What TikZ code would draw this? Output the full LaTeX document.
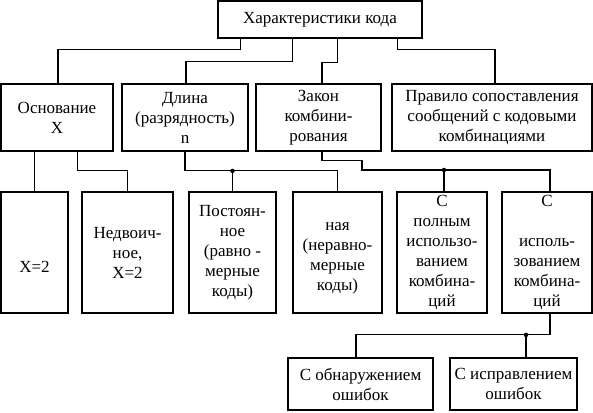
\documentclass[tikz,border=0pt]{standalone}
\usepackage{fontspec}
\setmainfont{Liberation Serif}
\begin{document}
\begin{tikzpicture}[x=1pt,y=-1pt,
  box/.style={draw,line width=1.8pt,inner sep=0pt,align=center,font=\fontsize{17}{20}\selectfont},
  conn/.style={line width=1.1pt},
  jdot/.style={circle,fill,inner sep=0pt,minimum size=4.5pt}]
\useasboundingbox (0,0) rectangle (593,412);
% top
\node[box,minimum width=204,minimum height=37] (top) at (320,19.5) {Характеристики кода};
% row 2
\node[box,minimum width=112,minimum height=67] (osn) at (57,117.5) {Основание\\X};
\node[box,minimum width=126,minimum height=67] (dl) at (185,117.5) {Длина\\(разрядность)\\n};
\node[box,minimum width=125,minimum height=67] (zak) at (318.5,117.5) {Закон\\комбини-\\рования};
\node[box,minimum width=200,minimum height=67] (pr) at (492,117.5) {Правило сопоставления\\сообщений с кодовыми\\комбинациями};
% row 3
\node[box,minimum width=67,minimum height=121] (b1) at (34.5,252.5) {\mbox{}\\\mbox{}\\X=2};
\node[box,minimum width=91,minimum height=121] (b2) at (127.5,252.5) {Недвоич-\\ное,\\X=2};
\node[box,minimum width=87,minimum height=121] (b3) at (232.5,252.5) {Постоян-\\ное\\(равно -\\мерные\\коды)};
\node[box,minimum width=89,minimum height=121] (b4) at (337.5,252.5) {\mbox{}\\ная\\(неравно-\\мерные\\коды)};
\node[box,minimum width=90,minimum height=121] (b5) at (442,252.5) {С\\полным\\использо-\\ванием\\комбина-\\ций};
\node[box,minimum width=90,minimum height=121] (b6) at (547,252.5) {С\\\mbox{}\\исполь-\\зованием\\комбина-\\ций};
% bottom
\node[box,minimum width=145,minimum height=52] (ba) at (360.5,384) {С обнаружением\\ошибок};
\node[box,minimum width=127,minimum height=52] (bb) at (513.5,384) {С исправлением\\ошибок};
% connectors from top
\draw[conn] ([xshift=23pt]top.south west) -- ++(0,11) -| ([xshift=1pt]osn.north);
\draw[conn] ([xshift=75pt]top.south west) -- ++(0,23) -| ([xshift=1pt]dl.north);
\draw[conn] ([xshift=120pt]top.south west) -- ++(0,24) -| ([xshift=3.5pt]zak.north);
\draw[conn] ([xshift=180pt]top.south west) -- ++(0,11) -| ([xshift=3pt]pr.north);
% from osn
\draw[conn] (b1.north |- osn.south) -- (b1.north);
\draw[conn] ([xshift=77pt]osn.south west) -- ++(0,19) -| (b2.north);
% from dl
\draw[conn] (dl.south) -- ++(0,19) coordinate (j1) -| (b4.north);
\draw[conn] (b3.north) -- (b3.north |- j1) node[jdot] {};
% from zak
\coordinate (k1) at (362,170);
\draw[conn] ([xshift=3.5pt]zak.south) -- ++(0,9) -| (k1) -| ([xshift=3pt]b6.north);
\draw[conn] ([xshift=2pt]b5.north) -- ([xshift=2pt]b5.north |- k1) node[jdot] {};
% from b6
\draw[conn] ([xshift=3pt]b6.south) -- ++(0,21) coordinate (k2) -| ([xshift=-4.5pt]ba.north);
\draw[conn] ([xshift=12.5pt]bb.north) -- ([xshift=12.5pt]bb.north |- k2) node[jdot] {};
\end{tikzpicture}
\end{document}
